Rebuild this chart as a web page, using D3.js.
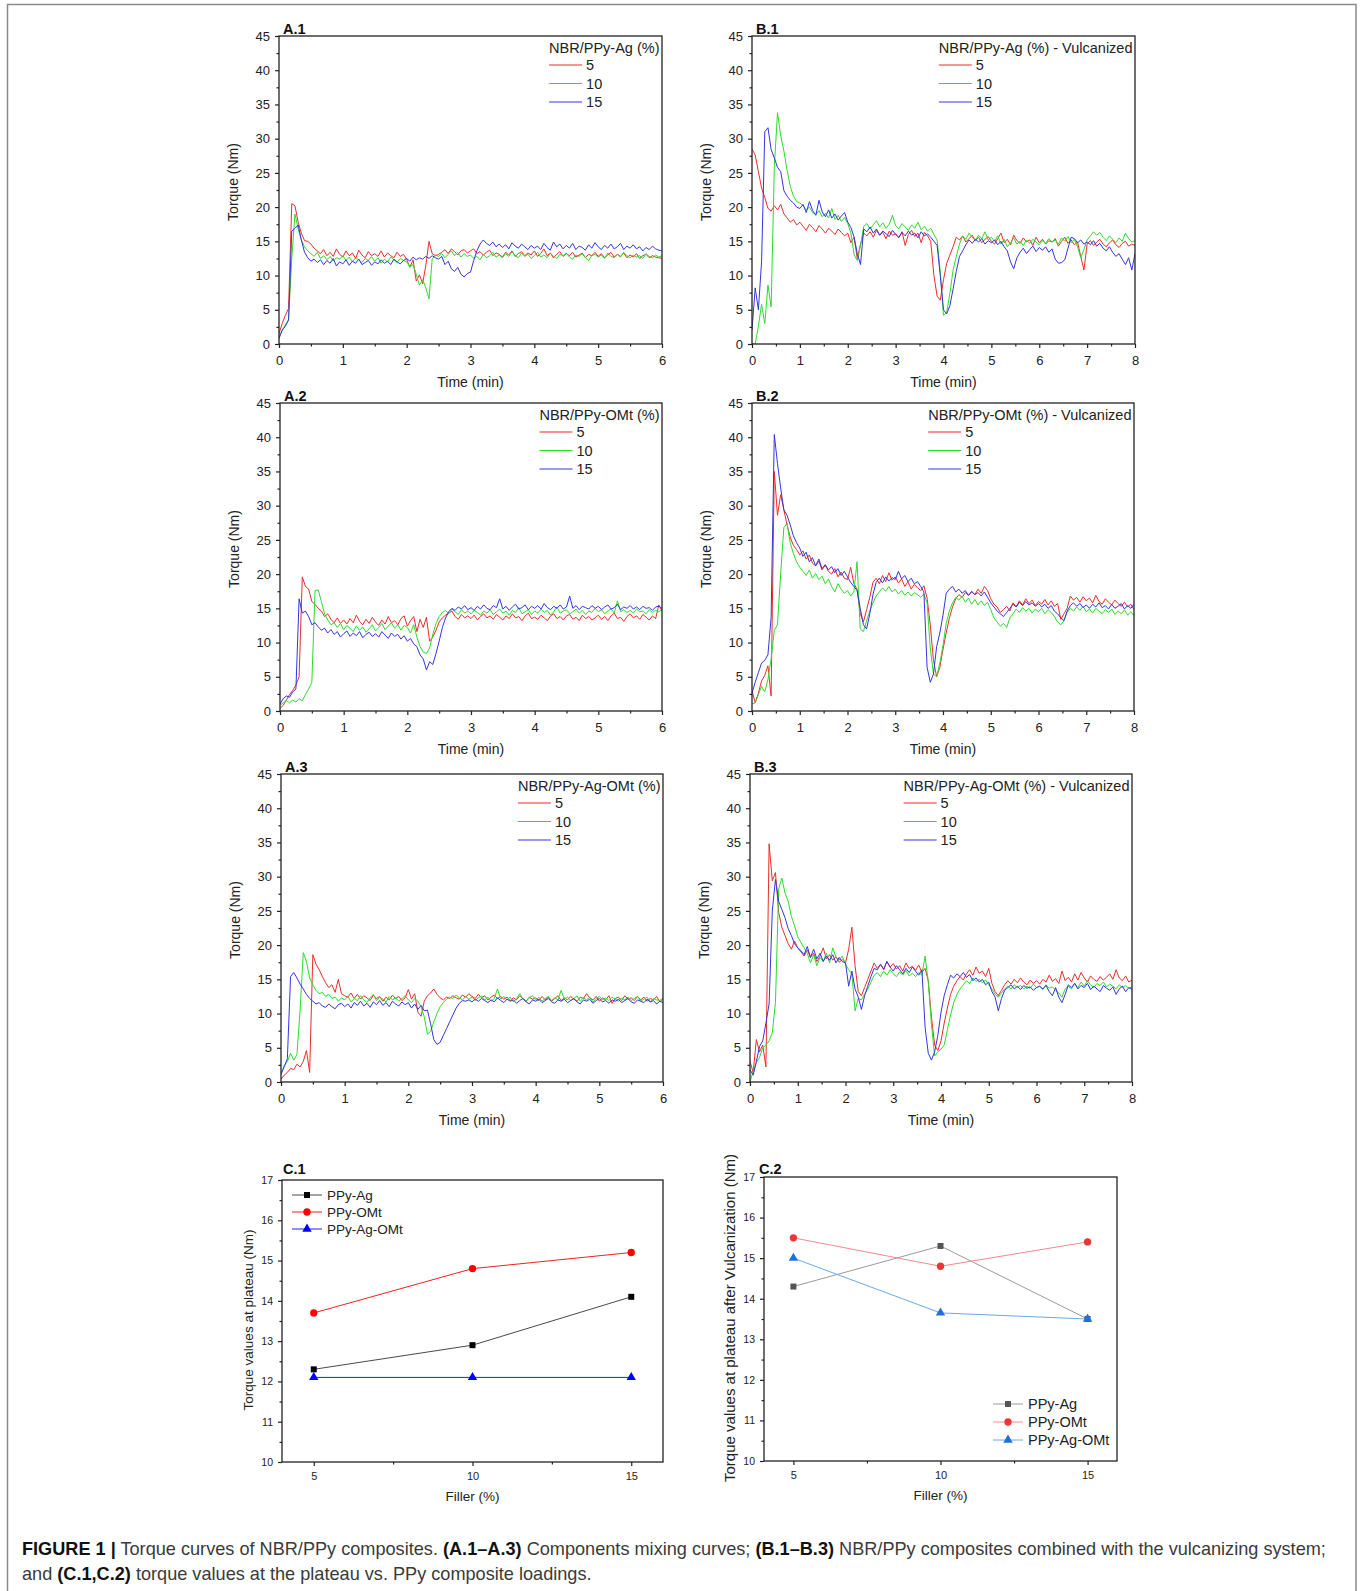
<!DOCTYPE html>
<html>
<head>
<meta charset="utf-8">
<script src="https://cdn.jsdelivr.net/npm/d3@7"></script>
<style>
  body { margin: 0; background: #fff; }
  text { font-family: "Liberation Sans", Arial, Helvetica, sans-serif; }
</style>
</head>
<body>
<svg id="fig" width="1362" height="1591"></svg>
<script>
// ---- torque curves, mixing (0-6 min, one reading every 0.05 min) ----
const agMix5 = [1.5,3,4.2,5.2,20.5,20.2,17.8,16.2,15.1,15.0,
  14.6,14.0,13.6,13.2,13.8,12.9,13.4,12.8,13.9,13.1,
  12.7,13.6,12.9,13.3,12.5,13.7,13.0,12.6,13.5,12.9,
  13.2,12.8,13.6,12.7,13.3,12.9,12.6,13.4,12.8,13.1,
  12.4,11.2,12.3,9.2,10.1,8.8,11.5,15.0,13.2,12.9,
  13.1,13.4,13.8,13.2,13.9,13.5,13.0,13.6,13.8,13.3,
  13.6,13.9,13.2,13.5,13.0,13.4,13.7,12.9,13.3,13.1,
  12.7,13.4,13.0,13.6,12.8,13.2,13.5,12.9,13.3,13.0,
  13.6,12.8,13.2,13.9,12.9,13.3,12.6,13.1,13.5,12.8,
  13.2,12.9,13.4,12.7,13.0,13.3,12.6,13.1,12.9,13.4,
  12.8,13.2,12.6,13.0,13.4,12.7,13.1,12.8,13.3,12.6,
  13.0,12.7,13.2,12.5,12.9,13.1,12.6,12.9,12.7,12.6,12.5];
const agMix10 = [1.0,2.0,2.8,3.6,12.5,19.0,16.8,15.2,14.2,13.6,
  13.2,12.8,13.4,12.5,12.9,12.3,12.8,12.1,12.6,12.4,
  12.9,12.2,12.7,12.0,12.6,12.3,11.9,12.5,12.2,12.8,
  12.1,12.6,11.8,12.4,12.0,12.7,12.3,11.9,12.5,12.2,
  12.0,11.3,11.6,10.2,8.6,9.4,8.2,6.6,12.4,13.0,
  12.8,13.2,12.6,13.1,13.6,12.9,13.4,12.7,13.2,12.8,
  13.0,12.5,12.8,12.3,13.1,12.6,12.9,13.4,12.7,13.0,
  12.6,13.2,12.8,13.5,12.9,12.6,13.3,12.8,13.1,12.5,
  12.9,13.4,12.7,13.0,12.6,13.3,12.8,12.5,13.1,12.9,
  13.3,12.7,12.4,13.0,12.8,13.2,12.6,12.2,12.9,13.1,
  12.7,13.0,12.5,13.3,12.8,12.6,13.1,12.7,13.4,12.9,
  12.6,13.0,12.7,12.9,12.5,13.2,12.8,12.6,13.0,12.7,12.9];
const agMix15 = [0.8,2.0,2.6,3.5,16.5,16.9,17.4,15.2,13.4,12.6,
  12.1,12.4,11.9,12.3,11.6,12.2,11.8,12.5,11.4,12.0,
  11.7,12.3,11.5,12.1,11.8,12.4,11.6,11.9,12.2,11.5,
  12.0,11.7,12.3,11.8,12.1,11.6,12.4,12.0,11.7,12.2,
  12.5,12.1,12.7,12.3,12.6,12.4,12.8,12.5,12.9,12.6,
  12.4,12.8,11.6,12.1,11.0,10.6,11.2,10.2,9.8,10.3,
  10.5,12.2,13.6,14.6,15.2,14.7,14.4,14.9,14.2,14.6,
  14.1,14.5,13.9,14.8,14.3,14.0,14.6,14.2,13.8,14.4,
  14.0,14.3,13.8,14.7,14.1,13.7,14.9,14.2,14.6,13.9,
  14.4,14.0,14.7,13.8,14.3,14.1,13.7,14.5,14.0,14.8,
  14.2,13.8,14.4,14.0,14.6,13.9,14.2,14.7,13.8,14.3,
  14.0,14.5,13.9,14.2,13.6,14.1,13.8,14.3,13.9,13.7,13.6];

const omtMix5 = [0.4,0.8,1.6,2.4,3.0,3.8,5.0,19.6,18.2,17.8,
  16.0,15.6,15.0,14.6,13.8,14.2,13.4,12.9,13.6,12.8,
  13.3,12.7,13.5,12.9,14.0,13.1,12.6,13.4,12.8,13.7,
  13.0,12.5,13.3,12.7,13.8,12.9,13.2,12.6,13.5,13.9,
  12.4,13.2,13.8,11.6,13.4,12.2,13.7,10.2,10.8,11.8,
  13.0,13.6,14.0,14.3,14.6,13.8,13.4,14.1,13.6,13.9,
  13.5,14.0,13.3,13.8,14.2,13.6,13.9,13.4,14.1,13.7,
  13.3,13.9,13.5,14.2,13.6,13.8,13.2,13.9,14.3,13.5,
  13.7,13.4,14.0,13.6,13.2,13.9,14.2,13.5,13.8,13.3,
  13.9,14.1,13.4,13.7,13.2,14.0,13.5,13.8,13.3,13.6,
  14.0,13.4,13.8,13.2,13.9,14.3,13.5,13.7,13.1,13.8,
  14.2,13.6,13.9,13.4,14.1,13.7,13.3,13.9,13.5,15.5,14.6];
const omtMix10 = [0.8,1.2,1.5,1.2,1.6,1.3,1.8,1.5,2.4,3.2,
  4.2,17.6,17.7,16.0,14.2,13.3,12.6,12.9,12.2,12.8,
  11.9,12.5,12.1,11.6,12.4,11.8,12.3,11.5,12.0,12.6,
  11.7,12.2,12.8,11.9,12.4,12.9,12.1,12.6,11.8,12.5,
  12.2,11.4,12.6,10.8,9.4,8.6,8.4,9.2,11.2,12.8,
  13.8,14.4,14.7,14.2,14.9,14.5,14.1,14.8,14.3,14.6,
  14.2,14.7,14.4,14.0,14.6,14.3,14.8,14.1,14.5,14.9,
  14.3,14.6,14.0,14.7,14.4,15.1,14.2,14.5,14.8,14.1,
  14.6,14.3,14.9,14.4,14.7,14.0,14.5,15.2,14.3,14.6,
  14.8,14.2,14.5,14.9,14.3,14.7,14.1,14.6,14.4,15.0,
  14.5,14.8,14.2,14.6,14.9,14.3,16.1,14.5,14.8,14.4,
  14.7,14.3,14.9,14.5,14.6,14.2,14.8,14.4,14.7,14.5,14.8];
const omtMix15 = [1.0,1.8,2.2,2.0,2.8,3.2,16.4,14.3,14.6,13.8,
  12.6,12.9,12.3,11.8,12.1,11.4,11.9,11.2,11.6,10.8,
  11.3,11.7,10.9,11.4,11.0,11.6,10.7,11.2,11.5,10.9,
  11.3,10.8,11.6,11.1,10.6,11.4,10.9,11.2,10.5,11.0,
  10.2,10.6,9.8,9.4,8.2,7.6,6.0,7.2,6.8,8.4,
  10.2,12.2,13.6,14.5,15.0,14.7,15.2,14.9,15.4,14.8,
  15.1,14.7,15.3,14.9,15.5,15.0,14.8,15.4,15.1,16.4,
  14.9,15.3,14.7,15.2,15.6,14.9,15.1,15.5,14.8,15.3,
  15.0,15.4,14.9,15.7,15.1,14.8,15.3,15.0,15.5,14.9,
  15.2,16.8,15.0,15.4,14.8,15.3,15.1,14.9,15.4,15.0,
  15.3,14.8,15.2,15.5,14.9,15.1,15.6,14.8,15.2,15.0,
  15.4,14.9,15.2,14.8,15.3,15.0,15.1,14.7,15.2,15.3,15.0];

const agOmtMix5 = [0.4,1.0,1.4,2.0,1.8,2.6,2.2,3.0,4.6,1.4,
  18.6,17.2,16.4,15.4,14.5,13.8,14.2,13.1,15.0,12.9,
  12.6,12.4,13.0,12.2,12.8,12.1,12.6,12.3,11.9,12.7,
  12.2,12.5,11.8,12.4,12.0,12.7,12.2,12.5,11.9,12.3,
  13.5,12.1,12.9,10.2,9.6,11.8,12.6,13.0,13.6,12.8,
  12.3,12.0,12.4,12.2,12.6,12.3,12.1,12.7,12.4,12.9,
  12.5,12.2,12.8,12.3,12.6,12.0,12.4,12.7,12.2,12.5,
  12.1,12.4,11.9,12.3,12.0,12.6,12.2,11.8,12.4,12.1,
  12.3,11.9,12.5,12.0,12.4,11.8,12.2,12.6,11.9,12.3,
  12.0,12.5,12.1,11.8,12.4,12.2,12.9,12.3,12.0,12.5,
  11.8,12.3,12.0,12.6,11.5,12.2,12.4,11.9,12.6,12.1,
  12.3,11.9,12.5,12.0,12.4,11.8,12.2,12.0,12.5,11.7,12.2];
const agOmtMix10 = [1.0,2.4,3.0,4.2,3.2,4.0,10.5,18.9,17.6,15.2,
  14.2,13.4,12.9,13.1,12.5,12.8,12.2,12.4,11.8,12.3,
  12.0,12.5,11.7,12.2,11.9,12.6,12.0,11.6,12.3,12.8,
  11.9,12.4,12.1,11.7,12.5,12.0,12.3,11.8,12.2,12.6,
  12.0,11.6,12.2,11.8,11.0,9.5,7.0,7.4,8.8,10.0,
  11.0,11.6,12.1,12.4,12.2,12.7,12.3,12.0,12.5,12.1,
  12.4,11.9,12.3,12.6,12.0,12.4,11.8,12.2,13.6,12.1,
  12.5,12.0,12.4,11.7,12.2,12.9,12.1,11.8,12.3,12.6,
  12.0,12.4,11.8,12.2,12.5,11.9,12.3,12.0,13.4,12.1,
  12.4,11.9,12.2,12.6,11.8,12.3,12.0,12.4,11.7,12.2,
  12.5,12.0,12.3,11.9,12.4,12.1,11.8,12.3,12.0,12.4,
  11.9,12.2,12.5,11.8,12.1,12.4,11.7,12.2,12.0,11.9,12.3];
const agOmtMix15 = [1.2,2.2,3.4,15.4,16.0,15.2,14.3,13.6,12.8,12.2,
  11.8,11.4,11.6,11.1,10.9,11.4,11.0,10.7,11.3,11.5,
  11.0,11.4,10.8,11.6,11.2,11.8,11.1,11.5,10.9,11.7,
  11.3,11.9,11.2,11.6,11.0,11.8,11.4,11.1,11.7,11.3,
  11.6,10.8,11.4,10.6,11.2,10.4,10.5,8.5,6.2,5.5,
  5.8,6.8,7.8,8.8,9.8,10.8,11.5,11.9,11.8,12.0,
  11.7,12.1,11.8,12.2,11.9,11.6,12.0,11.7,12.3,11.9,
  11.6,12.1,11.8,12.0,11.5,11.9,12.2,11.7,11.4,12.0,
  11.8,12.1,11.6,11.9,12.2,11.7,11.5,12.0,11.8,12.1,
  11.6,11.9,12.2,11.7,11.4,12.0,11.8,12.1,11.5,11.9,
  12.2,11.7,11.9,11.5,12.0,11.8,12.1,11.6,11.9,12.2,
  11.7,11.5,12.0,11.8,11.6,12.1,11.7,11.9,11.4,11.8,11.6];

// ---- torque curves, with vulcanizing system (0-8 min, one reading every 4 s) ----
const agVulc5 = [28.5,27.6,25.2,22.8,21.4,19.8,19.4,20.2,19.6,20.4,19.0,18.4,17.8,18.2,17.4,
  17.8,17.2,16.6,17.5,17.0,16.4,17.3,16.8,16.2,16.9,16.5,16.0,16.8,16.3,15.8,
  16.2,14.8,15.6,12.4,14.6,16.2,15.8,16.4,15.6,16.6,15.9,16.3,15.4,16.5,15.9,
  16.1,15.5,16.4,14.4,16.0,16.6,15.7,16.2,14.8,16.3,15.8,15.0,10.0,7.0,6.4,
  9.4,11.8,13.0,14.2,15.6,15.2,15.8,14.9,15.4,15.9,15.1,15.6,14.8,15.3,15.7,
  15.0,14.6,15.4,16.2,14.8,15.3,14.5,15.9,15.1,14.7,15.5,14.9,15.2,14.4,15.6,
  14.8,15.3,14.6,15.1,14.9,15.4,14.3,15.0,15.6,14.7,15.2,14.5,14.9,12.8,10.8,
  14.6,15.1,14.4,14.9,15.3,14.6,14.2,14.8,15.2,14.5,14.1,14.7,15.0,14.3,14.6,14.4];
const agVulc10 = [0.0,0.0,2.6,5.8,3.0,8.6,5.4,26.0,33.8,30.4,28.2,25.4,23.0,21.6,20.8,
  20.6,20.2,19.6,20.0,19.2,18.9,19.5,18.6,19.1,18.4,19.8,18.2,18.8,17.9,18.5,
  17.6,16.2,13.0,12.2,14.4,17.2,17.6,16.8,17.4,18.0,17.1,17.7,16.9,17.5,18.8,
  17.3,16.8,17.6,17.1,16.6,17.4,16.9,17.8,16.7,17.2,16.5,16.9,16.0,15.2,10.4,
  4.2,4.6,7.4,10.8,12.8,14.6,15.8,15.3,16.2,15.6,15.1,15.9,15.4,16.4,15.2,
  15.6,15.0,15.8,14.6,15.3,14.2,14.8,15.5,14.6,15.0,14.4,15.2,14.7,15.3,14.9,
  14.5,15.1,14.7,15.4,14.9,15.2,14.6,15.5,15.0,15.7,14.8,15.3,14.2,12.6,13.8,
  15.2,15.8,16.4,15.9,16.3,15.6,15.1,15.8,15.3,14.8,15.5,15.0,16.2,15.4,14.9,15.1];
const agVulc15 = [2.0,8.2,5.0,12.0,31.0,31.6,28.4,27.2,25.8,25.2,22.4,21.6,21.0,20.6,20.0,
  19.8,20.4,19.2,20.8,19.5,18.8,21.0,19.3,18.6,19.6,18.4,19.0,18.1,18.7,19.2,
  17.8,17.0,15.6,13.2,11.6,16.8,16.4,17.1,16.2,16.8,15.9,16.5,16.1,15.7,16.6,
  16.0,15.6,16.3,15.8,16.5,15.9,16.2,15.5,16.4,15.8,16.1,15.6,15.0,14.4,10.0,
  5.0,4.4,5.6,8.0,10.6,12.8,13.6,14.5,15.2,14.7,15.3,14.9,15.4,14.6,15.1,
  14.8,15.2,14.5,15.0,14.2,13.6,12.0,11.0,12.6,13.4,14.0,13.2,13.8,14.3,13.5,
  14.1,13.7,14.2,13.4,13.9,12.4,11.8,11.9,12.3,14.0,15.6,15.4,14.8,15.2,14.6,
  14.9,14.5,15.1,14.3,14.7,14.0,13.6,14.2,13.4,12.8,13.2,12.4,11.6,12.6,10.8,13.2];

const omtVulc5 = [3.0,1.2,2.6,4.4,5.2,6.6,2.2,35.0,28.6,31.6,29.4,27.2,25.4,24.2,23.6,
  22.8,23.4,22.2,22.8,21.6,21.2,21.9,20.6,21.3,20.4,20.0,20.8,19.6,20.3,19.4,
  19.2,21.0,18.6,17.8,14.2,13.0,14.8,16.6,18.8,19.4,18.6,19.8,18.9,20.2,19.1,
  19.6,18.7,19.3,18.2,18.9,17.8,18.5,18.0,17.6,18.3,16.5,12.6,7.4,5.0,6.4,
  9.0,11.4,13.6,15.2,16.4,17.0,16.6,17.3,16.9,17.4,17.0,17.8,17.2,18.2,17.6,
  16.4,15.6,15.2,14.4,14.8,15.3,14.6,15.8,15.2,16.1,15.5,16.4,15.7,16.2,15.4,
  16.0,15.6,16.3,15.5,16.1,15.3,15.7,13.4,14.2,15.0,16.8,16.2,16.6,15.9,16.7,
  16.1,16.5,15.8,16.9,16.0,15.6,16.4,15.9,15.5,16.2,15.7,15.3,15.9,15.2,15.6,14.8];
const omtVulc10 = [1.0,1.2,2.4,3.6,2.8,4.6,7.6,11.8,12.6,20.0,26.8,27.4,24.6,23.0,21.8,
  21.0,20.4,19.8,20.6,19.4,20.1,19.2,19.7,18.6,19.3,18.2,17.4,18.6,17.8,17.2,
  17.6,16.8,17.4,21.8,12.0,11.6,13.2,14.6,15.8,16.8,17.4,18.0,17.5,18.2,17.4,
  17.8,17.1,17.6,16.9,17.4,16.8,17.3,17.0,16.6,17.1,15.8,9.2,5.4,5.0,7.0,
  9.6,12.8,14.6,15.8,16.6,16.2,16.8,15.9,16.5,15.6,16.3,15.5,16.1,15.4,15.9,
  14.8,13.6,13.0,12.4,12.8,12.2,13.6,14.2,14.9,14.4,15.1,14.6,15.0,14.3,14.9,
  14.5,15.0,14.2,14.8,14.4,13.8,13.0,12.6,13.2,14.4,15.0,14.6,15.2,14.7,15.3,
  14.5,14.9,14.3,15.0,14.6,14.2,14.8,14.4,14.9,14.1,14.6,14.2,14.8,14.0,14.5,13.9];
const omtVulc15 = [2.6,4.2,5.6,7.0,7.4,8.2,13.6,40.4,36.2,32.6,29.4,28.6,27.2,25.6,24.6,
  23.8,22.6,23.2,21.8,22.4,21.2,22.2,20.8,21.4,20.6,21.1,20.2,20.8,19.8,20.4,
  19.6,18.8,18.2,17.6,15.0,12.6,12.0,14.2,17.0,18.8,19.4,18.7,19.6,19.0,19.5,
  19.2,20.4,19.3,19.8,18.9,19.4,18.6,18.9,18.2,17.4,6.4,4.2,5.4,9.4,11.4,
  14.0,17.2,17.8,18.2,17.4,17.8,17.2,17.6,16.9,17.5,17.0,17.3,16.8,17.4,16.6,
  15.8,15.2,14.6,14.2,13.8,14.4,15.0,15.6,15.2,15.9,15.4,16.0,15.5,15.8,15.3,
  15.7,15.2,15.6,15.0,15.4,14.6,14.2,13.6,13.2,14.6,15.4,15.8,15.3,15.7,15.1,
  15.5,15.0,15.6,15.2,15.8,15.1,15.4,14.9,15.6,15.0,15.3,15.7,14.9,15.4,15.0,15.6];

const agOmtVulc5 = [3.0,1.4,6.2,4.4,5.4,2.2,34.8,29.4,30.6,24.8,22.6,21.4,20.2,19.4,20.6,
  19.6,19.0,18.4,19.3,18.2,18.8,17.6,18.4,19.6,18.0,18.6,17.8,18.3,17.5,17.9,
  17.4,19.4,22.6,17.0,13.2,12.6,13.8,15.0,16.2,17.4,16.6,17.2,16.4,17.6,16.8,
  17.3,16.5,17.0,16.2,17.4,16.6,16.9,16.3,17.1,16.0,16.6,14.8,9.5,5.4,4.6,
  6.0,8.6,10.8,12.8,14.0,14.8,15.4,14.9,15.8,16.4,15.6,16.8,15.9,16.2,15.4,
  16.6,14.4,13.2,12.6,13.4,14.2,14.8,14.3,15.0,14.5,15.2,14.6,14.2,14.9,14.4,
  14.8,14.3,15.0,14.6,15.6,14.7,15.1,14.4,16.2,14.8,15.3,14.6,15.8,14.9,16.0,
  15.2,14.6,15.5,15.0,14.7,15.4,14.9,15.3,15.8,15.0,16.4,15.2,14.8,15.5,14.6,14.9];
const agOmtVulc10 = [0.0,1.6,2.8,3.6,5.0,5.4,6.0,7.2,11.6,28.2,29.8,27.6,26.4,24.2,22.8,
  21.2,20.4,19.6,18.8,17.4,18.6,17.0,18.2,17.6,18.8,17.4,19.6,18.2,17.8,18.4,
  17.2,16.4,15.8,10.4,12.2,12.0,12.8,13.6,14.6,15.6,16.0,15.4,16.2,15.6,16.4,
  15.8,15.4,16.1,15.6,16.3,15.5,15.9,15.4,16.0,15.6,18.4,14.6,8.4,3.8,4.4,
  4.8,5.4,7.6,9.8,11.6,12.8,13.6,14.2,14.8,14.4,15.2,14.7,15.0,14.5,14.9,
  14.2,13.6,12.8,12.4,13.0,13.6,14.0,13.6,14.2,13.8,14.1,13.6,14.0,13.7,14.3,
  13.8,14.0,13.5,14.2,13.7,13.9,13.4,13.0,12.4,13.6,14.0,13.6,14.4,13.8,14.6,
  14.0,14.8,14.2,13.8,14.4,14.1,14.6,13.9,14.3,14.0,13.6,14.2,13.8,14.1,13.7,13.9];
const agOmtVulc15 = [1.8,1.0,3.0,5.2,6.0,8.6,11.4,25.0,29.6,26.4,25.2,24.0,22.4,21.4,20.2,
  19.6,19.2,18.6,19.8,18.2,19.4,18.0,18.8,17.6,18.4,17.8,18.6,17.4,18.2,17.6,
  17.4,14.0,16.2,13.6,12.4,10.6,12.6,14.0,15.4,16.6,16.4,17.2,16.5,17.6,16.8,
  16.2,17.0,16.4,15.8,16.6,16.0,16.8,16.2,15.6,16.4,8.0,4.2,3.2,4.4,6.8,
  10.2,12.6,14.2,15.6,15.2,15.8,15.4,16.0,15.3,15.7,14.8,15.2,14.6,15.0,14.2,
  14.6,13.2,12.4,10.4,12.2,13.4,13.8,14.2,13.6,14.0,13.5,14.1,13.7,13.9,13.4,
  13.8,14.0,13.6,14.1,13.2,12.6,13.8,12.4,11.6,12.8,14.2,13.8,14.4,13.6,14.1,
  13.8,14.4,13.5,14.0,13.6,13.2,14.1,13.7,13.4,13.9,12.8,13.6,14.0,13.2,13.8,13.5];

const loadings = ["5", "10", "15"];
const curveColors = ["#ee2b2b", "#2bdc2b", "#3434e2"];

// ---- plateau torque vs filler ----
const fillers = [5, 10, 15];
const plateauNames = ["PPy-Ag", "PPy-OMt", "PPy-Ag-OMt"];
const plateauAg = [12.3, 12.9, 14.1];
const plateauOmt = [13.7, 14.8, 15.2];
const plateauAgOmt = [12.1, 12.1, 12.1];
const vulcPlateauAg = [14.3, 15.3, 13.5];
const vulcPlateauOmt = [15.5, 14.8, 15.4];
const vulcPlateauAgOmt = [15.0, 13.65, 13.5];

const svg = d3.select("#fig");
const FONT = '"Liberation Sans", Arial, Helvetica, sans-serif';

// outer frame of the figure box
svg.append("path")
  .attr("d", "M7.5,1591V4.5H1356V1591")
  .attr("fill", "none").attr("stroke", "#8a8a8a").attr("stroke-width", 1.5);

function styleAxis(g, fs) {
  g.attr("font-family", FONT).attr("font-size", fs);
  g.select(".domain").remove();
  g.selectAll(".tick line").attr("stroke", "#222").attr("stroke-width", 1.2);
  g.selectAll(".tick text").attr("fill", "#222");
}

const torquePanels = [
  {id: "A.1", legend: "NBR/PPy-Ag (%)", tmax: 6, step: 0.05, series: [agMix5, agMix10, agMix15], box: [279, 662, 36, 344]},
  {id: "B.1", legend: "NBR/PPy-Ag (%) - Vulcanized", tmax: 8, step: 1 / 15, series: [agVulc5, agVulc10, agVulc15], box: [752, 1135, 36, 344]},
  {id: "A.2", legend: "NBR/PPy-OMt (%)", tmax: 6, step: 0.05, series: [omtMix5, omtMix10, omtMix15], box: [280, 662, 403, 711]},
  {id: "B.2", legend: "NBR/PPy-OMt (%) - Vulcanized", tmax: 8, step: 1 / 15, series: [omtVulc5, omtVulc10, omtVulc15], box: [752, 1134, 403, 711]},
  {id: "A.3", legend: "NBR/PPy-Ag-OMt (%)", tmax: 6, step: 0.05, series: [agOmtMix5, agOmtMix10, agOmtMix15], box: [281, 663, 774, 1082]},
  {id: "B.3", legend: "NBR/PPy-Ag-OMt (%) - Vulcanized", tmax: 8, step: 1 / 15, series: [agOmtVulc5, agOmtVulc10, agOmtVulc15], box: [750, 1132, 774, 1082]}
];

torquePanels.forEach(drawTorque);

function drawTorque(p) {
  const [x0, x1, y0, y1] = p.box;
  const x = d3.scaleLinear().domain([0, p.tmax]).range([x0, x1]);
  const y = d3.scaleLinear().domain([0, 45]).range([y1, y0]);
  const clipId = "clip" + p.id.replace(".", "");
  svg.append("clipPath").attr("id", clipId)
    .append("rect").attr("x", x0).attr("y", y0).attr("width", x1 - x0).attr("height", y1 - y0);

  const line = d3.line()
    .x((d, i) => x(i * p.step))
    .y(d => y(d));

  svg.append("g").attr("clip-path", "url(#" + clipId + ")")
    .selectAll("path").data(p.series).join("path")
    .attr("d", line)
    .attr("fill", "none")
    .attr("stroke", (d, i) => curveColors[i])
    .attr("stroke-width", 1)
    .attr("stroke-linejoin", "round");

  // minor ticks first, then majors with labels
  const xMinor = svg.append("g").attr("transform", "translate(0," + y1 + ")")
    .call(d3.axisBottom(x).tickValues(d3.range(0.5, p.tmax, 1)).tickSize(2.5).tickFormat(""));
  styleAxis(xMinor, 13);
  const xMajor = svg.append("g").attr("transform", "translate(0," + y1 + ")")
    .call(d3.axisBottom(x).tickValues(d3.range(0, p.tmax + 1, 1)).tickSize(4).tickPadding(8).tickFormat(d3.format("d")));
  styleAxis(xMajor, 13);

  const yMinor = svg.append("g").attr("transform", "translate(" + x0 + ",0)")
    .call(d3.axisLeft(y).tickValues(d3.range(2.5, 45, 5)).tickSize(2.5).tickFormat(""));
  styleAxis(yMinor, 13);
  const yMajor = svg.append("g").attr("transform", "translate(" + x0 + ",0)")
    .call(d3.axisLeft(y).tickValues(d3.range(0, 46, 5)).tickSize(4).tickPadding(5));
  styleAxis(yMajor, 13);

  svg.append("rect")
    .attr("x", x0).attr("y", y0).attr("width", x1 - x0).attr("height", y1 - y0)
    .attr("fill", "none").attr("stroke", "#222").attr("stroke-width", 1.3);

  svg.append("text").attr("x", x0 + 4).attr("y", y0 - 2)
    .attr("font-size", 14.5).attr("font-weight", "bold").attr("fill", "#111")
    .text(p.id);

  svg.append("text").attr("x", (x0 + x1) / 2).attr("y", y1 + 43)
    .attr("text-anchor", "middle").attr("font-size", 14).attr("fill", "#222")
    .text("Time (min)");

  svg.append("text")
    .attr("transform", "translate(" + (x0 - 41) + "," + ((y0 + y1) / 2 - 8) + ") rotate(-90)")
    .attr("text-anchor", "middle").attr("font-size", 14).attr("fill", "#222")
    .text("Torque (Nm)");

  // legend
  const title = svg.append("text").attr("x", x1 - 2.5).attr("y", y0 + 17)
    .attr("text-anchor", "end").attr("font-size", 14.5).attr("fill", "#222")
    .text(p.legend);
  const lx = title.node().getBBox().x;
  const rows = [y0 + 29, y0 + 47.5, y0 + 66];
  loadings.forEach((lab, i) => {
    svg.append("line").attr("x1", lx).attr("x2", lx + 33).attr("y1", rows[i]).attr("y2", rows[i])
      .attr("stroke", curveColors[i]).attr("stroke-width", 1);
    svg.append("text").attr("x", lx + 37).attr("y", rows[i] + 5)
      .attr("font-size", 14.5).attr("fill", "#222").text(lab);
  });
}

// ---- C panels ----
const plateauPanels = [
  {id: "C.1", ylabel: "Torque values at plateau (Nm)", ylabelSize: 13.5, box: [282, 663, 1180, 1462],
   series: [plateauAg, plateauOmt, plateauAgOmt],
   lineColors: ["#4a4a4a", "#f02020", "#2020f0"], markColors: ["#000", "#f00", "#00f"],
   legend: {x: 292, rows: [1195, 1212, 1229], fs: 13.5}, titleX: 283, titleY: 1174},
  {id: "C.2", ylabel: "Torque values at plateau after Vulcanization (Nm)", ylabelSize: 15, box: [764, 1117, 1177, 1461],
   series: [vulcPlateauAg, vulcPlateauOmt, vulcPlateauAgOmt],
   lineColors: ["#9a9a9a", "#f28a8a", "#6aa8ea"], markColors: ["#555", "#ee3535", "#1f6fe0"],
   legend: {x: 993, rows: [1404, 1422, 1440], fs: 14.5}, titleX: 759, titleY: 1174}
];
const markerTypes = [d3.symbolSquare, d3.symbolCircle, d3.symbolTriangle];
const markerSizes = [36, 42, 38];

plateauPanels.forEach(drawPlateau);

function drawPlateau(c) {
  const [x0, x1, y0, y1] = c.box;
  const x = d3.scaleLinear().domain([4, 16]).range([x0, x1]);
  const y = d3.scaleLinear().domain([10, 17]).range([y1, y0]);

  const line = d3.line().x((d, i) => x(fillers[i])).y(d => y(d));
  c.series.forEach((s, k) => {
    svg.append("path").attr("d", line(s)).attr("fill", "none")
      .attr("stroke", c.lineColors[k]).attr("stroke-width", 1);
  });
  c.series.forEach((s, k) => {
    svg.append("g").selectAll("path").data(s).join("path")
      .attr("transform", (d, i) => "translate(" + x(fillers[i]) + "," + y(d) + ")")
      .attr("d", d3.symbol(markerTypes[k], markerSizes[k]))
      .attr("fill", c.markColors[k]);
  });

  const xMinor = svg.append("g").attr("transform", "translate(0," + y1 + ")")
    .call(d3.axisBottom(x).tickValues([7.5, 12.5]).tickSize(2.5).tickFormat(""));
  styleAxis(xMinor, 11);
  const xMajor = svg.append("g").attr("transform", "translate(0," + y1 + ")")
    .call(d3.axisBottom(x).tickValues(fillers).tickSize(4).tickPadding(6).tickFormat(d3.format("d")));
  styleAxis(xMajor, 11);
  const yMinor = svg.append("g").attr("transform", "translate(" + x0 + ",0)")
    .call(d3.axisLeft(y).tickValues(d3.range(10.5, 17, 1)).tickSize(2.5).tickFormat(""));
  styleAxis(yMinor, 10.5);
  const yMajor = svg.append("g").attr("transform", "translate(" + x0 + ",0)")
    .call(d3.axisLeft(y).tickValues(d3.range(10, 18, 1)).tickSize(4).tickPadding(5).tickFormat(d3.format("d")));
  styleAxis(yMajor, 10.5);

  svg.append("rect")
    .attr("x", x0).attr("y", y0).attr("width", x1 - x0).attr("height", y1 - y0)
    .attr("fill", "none").attr("stroke", "#222").attr("stroke-width", 1.3);

  svg.append("text").attr("x", c.titleX).attr("y", c.titleY)
    .attr("font-size", 14.5).attr("font-weight", "bold").attr("fill", "#111").text(c.id);

  svg.append("text").attr("x", (x0 + x1) / 2).attr("y", y1 + 39)
    .attr("text-anchor", "middle").attr("font-size", 13.5).attr("fill", "#222")
    .text("Filler (%)");

  svg.append("text")
    .attr("transform", "translate(" + (x0 - 29) + "," + ((y0 + y1) / 2 - 1) + ") rotate(-90)")
    .attr("text-anchor", "middle").attr("font-size", c.ylabelSize).attr("fill", "#222")
    .text(c.ylabel);

  plateauNames.forEach((name, k) => {
    const ry = c.legend.rows[k];
    svg.append("line").attr("x1", c.legend.x).attr("x2", c.legend.x + 30).attr("y1", ry).attr("y2", ry)
      .attr("stroke", c.lineColors[k]).attr("stroke-width", 1);
    svg.append("path").attr("transform", "translate(" + (c.legend.x + 15) + "," + ry + ")")
      .attr("d", d3.symbol(markerTypes[k], markerSizes[k])).attr("fill", c.markColors[k]);
    svg.append("text").attr("x", c.legend.x + 35).attr("y", ry + 5)
      .attr("font-size", c.legend.fs).attr("fill", "#222").text(name);
  });
}

// ---- caption ----
const captionLines = [
  [["FIGURE 1 |", true], [" Torque curves of NBR/PPy composites. ", false], ["(A.1–A.3)", true],
   [" Components mixing curves; ", false], ["(B.1–B.3)", true],
   [" NBR/PPy composites combined with the vulcanizing system;", false]],
  [["and ", false], ["(C.1,C.2)", true], [" torque values at the plateau vs. PPy composite loadings.", false]]
];
const capNodes = captionLines.map((parts, li) => {
  const t = svg.append("text").attr("x", 0).attr("y", 0)
    .attr("font-size", 17.5).attr("fill", "#3a3a3a").attr("xml:space", "preserve");
  parts.forEach(([s, b]) => {
    t.append("tspan").attr("font-weight", b ? "bold" : "normal")
      .attr("fill", b ? "#111" : "#3a3a3a").text(s);
  });
  return t;
});
const capScale = 1305 / capNodes[0].node().getComputedTextLength();
capNodes.forEach((t, li) => {
  t.attr("transform", "translate(22," + (1555 + li * 25) + ") scale(" + capScale + ",1)");
});
</script>
</body>
</html>
